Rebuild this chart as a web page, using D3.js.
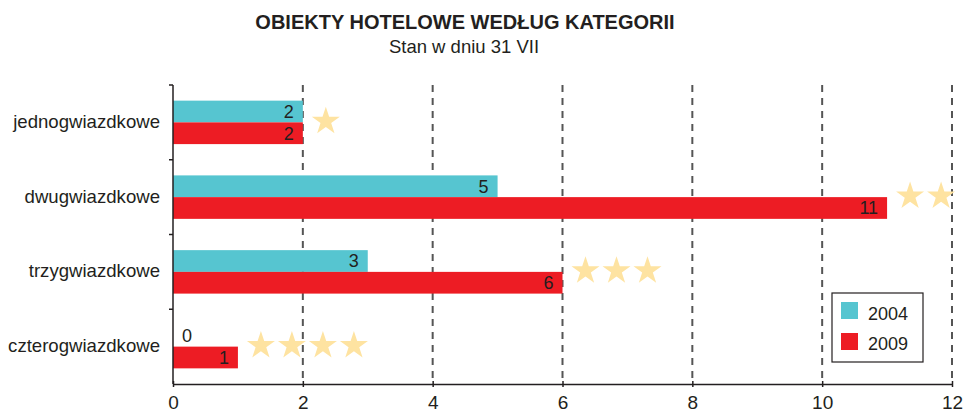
<!DOCTYPE html>
<html>
<head>
<meta charset="utf-8">
<script src="https://cdn.jsdelivr.net/npm/d3@7"></script>
<style>
  html, body { margin: 0; padding: 0; background: #fff; }
  svg { display: block; font-family: "Liberation Sans", Arial, sans-serif; }
</style>
</head>
<body>
<svg id="chart" width="965" height="414"></svg>
<script>
// Hotel establishments by category (count)
const categories = ["jednogwiazdkowe", "dwugwiazdkowe", "trzygwiazdkowe", "czterogwiazdkowe"];
const starCounts = [1, 2, 3, 4];
const seriesNames = ["2004", "2009"];
const values2004 = [2, 5, 3, 0];
const values2009 = [2, 11, 6, 1];
const xTicks = [0, 2, 4, 6, 8, 10, 12];
const colors = ["#56c5d0", "#ed1c24"];

const title = "OBIEKTY HOTELOWE WEDŁUG KATEGORII";
const subtitle = "Stan w dniu 31 VII";

const textColor = "#231f20";
const gridColor = "#555555";
const starColor = "#fee3a1";

const svg = d3.select("#chart");
const margin = { left: 173, right: 13, top: 85, bottom: 30 };
const W = 965, H = 414;

const x = d3.scaleLinear().domain([0, 12]).range([margin.left, W - margin.right]);
const y = d3.scaleBand().domain(categories).range([margin.top, H - margin.bottom]).padding(0);
const ySub = d3.scaleBand().domain(seriesNames).range([0, y.bandwidth()]).paddingInner(0).paddingOuter(0.72);

const rows = categories.map((c, i) => ({
  category: c,
  stars: starCounts[i],
  values: [values2004[i], values2009[i]]
}));

// Titles
svg.append("text")
  .attr("x", 465).attr("y", 29)
  .attr("text-anchor", "middle")
  .attr("font-size", 20).attr("font-weight", "bold")
  .attr("fill", textColor)
  .text(title);
svg.append("text")
  .attr("x", 464).attr("y", 53)
  .attr("text-anchor", "middle")
  .attr("font-size", 18.5)
  .attr("fill", textColor)
  .text(subtitle);

// Dashed vertical gridlines
svg.append("g")
  .selectAll("line")
  .data(xTicks.filter(t => t > 0))
  .join("line")
  .attr("x1", d => x(d)).attr("x2", d => x(d))
  .attr("y1", margin.top).attr("y2", H - margin.bottom)
  .attr("stroke", gridColor)
  .attr("stroke-width", 2)
  .attr("stroke-dasharray", "7,6");

// Bars
const groups = svg.append("g")
  .selectAll("g")
  .data(rows)
  .join("g")
  .attr("transform", d => `translate(0,${y(d.category)})`);

groups.selectAll("rect")
  .data(d => d.values.map((v, j) => ({ v, s: seriesNames[j], j })))
  .join("rect")
  .attr("x", x(0))
  .attr("y", d => ySub(d.s))
  .attr("width", d => x(d.v) - x(0))
  .attr("height", ySub.bandwidth())
  .attr("fill", d => colors[d.j]);

// Value labels
groups.selectAll("text.val")
  .data(d => d.values.map((v, j) => ({ v, s: seriesNames[j], j })))
  .join("text")
  .attr("class", "val")
  .attr("x", d => d.v === 0 ? x(0) + 9 : x(d.v) - 9)
  .attr("y", d => ySub(d.s) + ySub.bandwidth() / 2)
  .attr("dy", "0.36em")
  .attr("text-anchor", d => d.v === 0 ? "start" : "end")
  .attr("font-size", 18)
  .attr("fill", textColor)
  .text(d => d.v);

// Star markers after the longest bar of each category
const star = d3.symbol().type(d3.symbolStar).size(243);
groups.each(function (d) {
  const end = x(d3.max(d.values));
  d3.select(this).selectAll("path.star")
    .data(d3.range(d.stars))
    .join("path")
    .attr("class", "star")
    .attr("d", star)
    .attr("fill", starColor)
    .attr("transform", k => `translate(${end + 23 + k * 31},${y.bandwidth() / 2 - 1})`);
});

// Axes: ticks cross the baseline
const xAxis = d3.axisBottom(x).tickValues(xTicks).tickSize(3).tickSizeOuter(0).tickPadding(9);
const gx = svg.append("g")
  .attr("transform", `translate(0,${H - margin.bottom})`)
  .call(xAxis);
gx.select(".domain").attr("stroke", textColor).attr("stroke-width", 1.5);
gx.selectAll(".tick line").attr("y1", -3).attr("stroke", textColor).attr("stroke-width", 1.5);
gx.selectAll(".tick text")
  .attr("font-size", 19)
  .attr("font-family", "Liberation Sans, Arial, sans-serif")
  .attr("fill", textColor);

// Left axis with ticks at band boundaries
svg.append("line")
  .attr("x1", x(0)).attr("x2", x(0))
  .attr("y1", margin.top).attr("y2", H - margin.bottom)
  .attr("stroke", textColor).attr("stroke-width", 1.5);
svg.append("g")
  .selectAll("line")
  .data(categories)
  .join("line")
  .attr("x1", x(0) - 4).attr("x2", x(0))
  .attr("y1", d => y(d)).attr("y2", d => y(d))
  .attr("stroke", textColor).attr("stroke-width", 1.5);

svg.append("g")
  .selectAll("text")
  .data(categories)
  .join("text")
  .attr("x", 160)
  .attr("y", d => y(d) + y.bandwidth() / 2)
  .attr("dy", "0.3em")
  .attr("text-anchor", "end")
  .attr("font-size", 18.6)
  .attr("fill", textColor)
  .text(d => d);

// Legend
const legend = svg.append("g").attr("transform", "translate(832,293)");
legend.append("rect")
  .attr("width", 91).attr("height", 69)
  .attr("fill", "#fff")
  .attr("stroke", textColor).attr("stroke-width", 1.2);
seriesNames.forEach((s, i) => {
  legend.append("rect")
    .attr("x", 9).attr("y", 9 + i * 31)
    .attr("width", 17).attr("height", 17)
    .attr("fill", colors[i]);
  legend.append("text")
    .attr("x", 36).attr("y", 27 + i * 30)
    .attr("font-size", 18)
    .attr("fill", textColor)
    .text(s);
});
</script>
</body>
</html>
